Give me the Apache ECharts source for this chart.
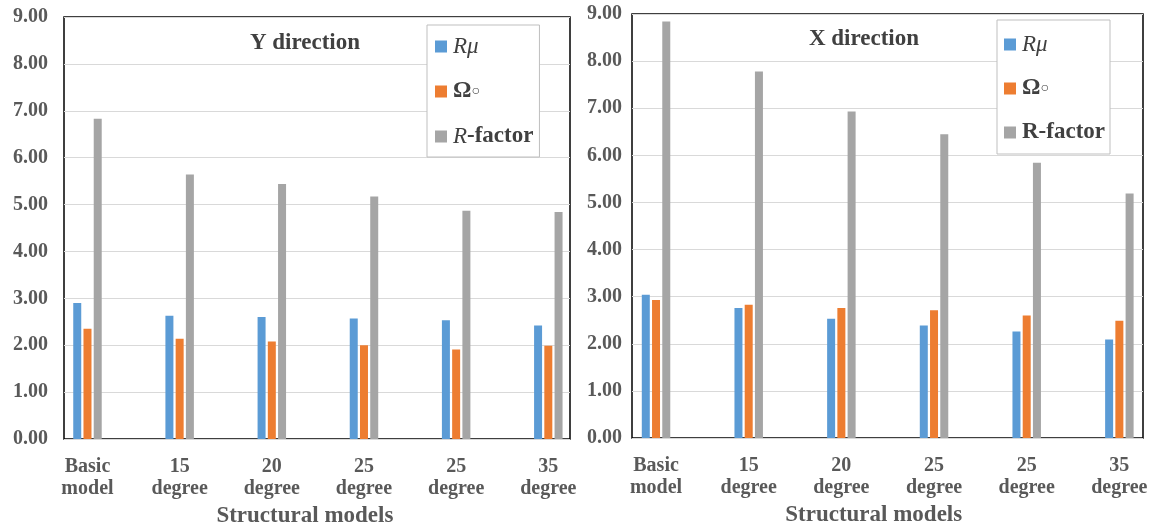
<!DOCTYPE html>
<html>
<head>
<meta charset="utf-8">
<script src="https://cdn.jsdelivr.net/npm/echarts@6/dist/echarts.min.js"></script>
<style>
  html, body { margin: 0; padding: 0; background: #fff; }
  #myCharts { width: 1156px; height: 527px; }
</style>
</head>
<body>
<div id="myCharts"></div>
<script>
  // 数据
  var categories = ['Basic\nmodel', '15\ndegree', '20\ndegree', '25\ndegree', '25\ndegree', '35\ndegree'];
  var yTicks = [0, 1, 2, 3, 4, 5, 6, 7, 8, 9];

  // Y direction
  var yRmu = [2.90, 2.63, 2.60, 2.57, 2.53, 2.42];
  var yOmega = [2.35, 2.14, 2.08, 2.00, 1.91, 1.99];
  var yRfactor = [6.83, 5.64, 5.44, 5.17, 4.87, 4.84];

  // X direction
  var xRmu = [3.04, 2.76, 2.53, 2.39, 2.26, 2.09];
  var xOmega = [2.93, 2.83, 2.76, 2.71, 2.60, 2.49];
  var xRfactor = [8.84, 7.78, 6.93, 6.45, 5.84, 5.19];

  var colors = ['#5B9BD5', '#ED7D31', '#A5A5A5'];
  var serif = 'Liberation Serif';
  var labelColor = '#595959';

  function frameY(gi) {
    return {
      type: 'value', gridIndex: gi, min: yTicks[0], max: yTicks[yTicks.length - 1], interval: 1,
      axisLine: { show: false }, axisTick: { show: false },
      axisLabel: {
        margin: gi === 0 ? 16 : 10,
        fontFamily: serif, fontWeight: 'bold', fontSize: 20, color: labelColor,
        formatter: function (v) { return v.toFixed(2); }
      },
      splitLine: { lineStyle: { color: '#D9D9D9', width: 1 } }
    };
  }
  function barY(gi) {
    return { type: 'value', gridIndex: gi, min: 0, max: 9, interval: 1, show: false };
  }
  function barX(gi, shift) {
    return {
      type: 'category', gridIndex: gi, data: categories,
      axisLine: { show: false }, axisTick: { show: false },
      axisLabel: {
        margin: 17, interval: 0, fontFamily: serif, fontWeight: 'bold', fontSize: 20,
        lineHeight: 22, color: labelColor
      },
      name: 'Structural models', nameLocation: 'middle', nameGap: 64,
      nameTextStyle: {
        fontFamily: serif, fontWeight: 'bold', fontSize: 23, color: labelColor,
        padding: [0, shift, 0, 0]
      }
    };
  }
  function bar(name, data, idx, color) {
    return {
      name: name, type: 'bar', xAxisIndex: idx, yAxisIndex: idx, data: data,
      barWidth: 8, barGap: '28%', itemStyle: { color: color }
    };
  }

  var rich = {
    i: { fontFamily: serif, fontStyle: 'italic', fontSize: 23, color: '#404040' },
    b: { fontFamily: serif, fontWeight: 'bold', fontSize: 23, color: '#404040' },
    c: { fontFamily: serif, fontSize: 14, color: '#404040' }
  };
  function legend(left, top, gap, pad, right) {
    return {
      orient: 'vertical', left: left, top: top, itemGap: gap, padding: pad,
      itemWidth: 12, itemHeight: 12, icon: 'rect',
      borderColor: '#BFBFBF', borderWidth: 1, backgroundColor: '#fff',
      data: ['Rmu', 'Omega', 'Rfactor'],
      textStyle: { rich: rich, lineHeight: 23, padding: [0, 0, 0, 1] },
      formatter: function (n) {
        if (n === 'Rmu') return '{i|Rμ}';
        if (n === 'Omega') return '{b|Ω}{c|○}';
        return right ? '{b|R-factor}' : '{i|R}{b|-factor}';
      }
    };
  }

  var myCharts = echarts.init(document.getElementById('myCharts'));
  myCharts.setOption({
    animation: false,
    color: colors,
    title: [
      { text: 'Y direction', left: 300, top: 27, textAlign: 'center',
        textStyle: { fontFamily: serif, fontWeight: 'bold', fontSize: 23, color: '#404040' } },
      { text: 'X direction', left: 859, top: 23, textAlign: 'center',
        textStyle: { fontFamily: serif, fontWeight: 'bold', fontSize: 23, color: '#404040' } }
    ],
    legend: [
      legend(427, 25, 22, [10, 6, 9, 8], false),
      legend(997, 20, 21, [13, 5, 10, 7], true)
    ],
    // 不让 v6 自动收缩网格
    grid: [
      { left: 64, top: 17, width: 506, height: 422, outerBoundsMode: 'none',
        show: true, borderColor: '#000', borderWidth: 1.5 },
      { left: 41.4, top: 17, width: 553, height: 422, outerBoundsMode: 'none' },
      { left: 632, top: 14, width: 511, height: 424, outerBoundsMode: 'none',
        show: true, borderColor: '#000', borderWidth: 1.5 },
      { left: 609.7, top: 14, width: 556, height: 424, outerBoundsMode: 'none' }
    ],
    xAxis: [
      { type: 'category', gridIndex: 0, data: categories, show: false },
      barX(1, 26),
      { type: 'category', gridIndex: 2, data: categories, show: false },
      barX(3, 28)
    ],
    yAxis: [frameY(0), barY(1), frameY(2), barY(3)],
    series: [
      bar('Rmu', yRmu, 1, colors[0]),
      bar('Omega', yOmega, 1, colors[1]),
      bar('Rfactor', yRfactor, 1, colors[2]),
      bar('Rmu', xRmu, 3, colors[0]),
      bar('Omega', xOmega, 3, colors[1]),
      bar('Rfactor', xRfactor, 3, colors[2])
    ]
  });
</script>
</body>
</html>
